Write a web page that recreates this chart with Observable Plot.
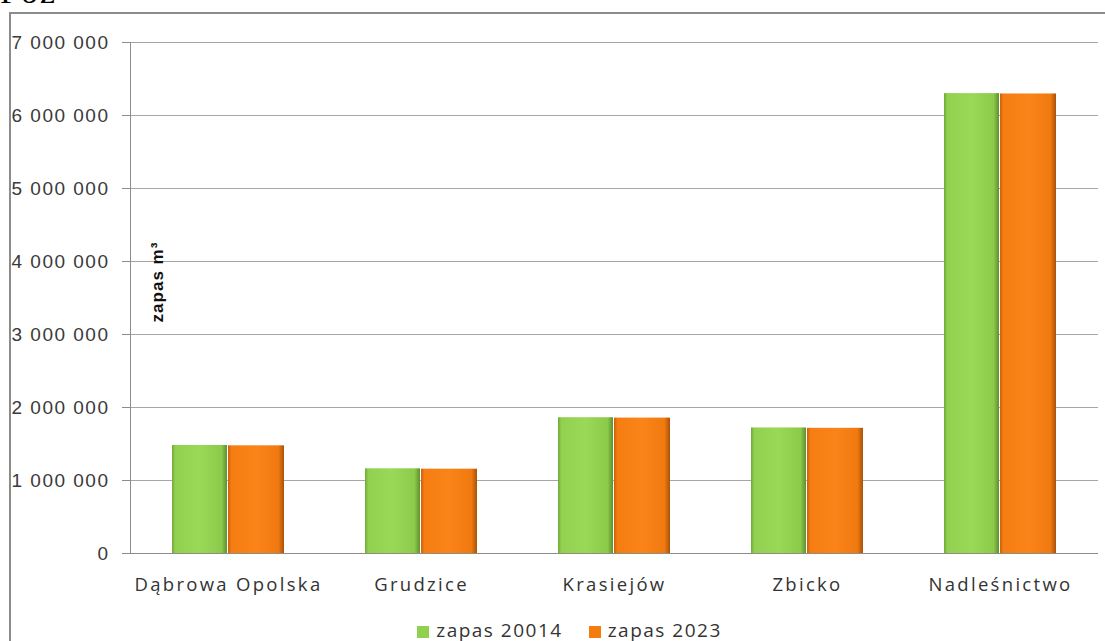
<!DOCTYPE html>
<html>
<head>
<meta charset="utf-8">
<script src="https://cdn.jsdelivr.net/npm/d3@7"></script>
<script src="https://cdn.jsdelivr.net/npm/@observablehq/plot@0.6"></script>
<style>
  html, body { margin: 0; padding: 0; background: #fff; width: 1105px; height: 641px; overflow: hidden; position: relative; }
  #cut { position: absolute; left: 0; top: -27px; font-family: "Liberation Serif", serif; font-size: 34px; color: #000; letter-spacing: 2px; }
  #frame { position: absolute; left: 9px; top: 12px; width: 1200px; height: 700px; border: 2px solid #8c8c8c; box-sizing: border-box; }
  #chart { position: absolute; left: 0; top: 0; }
  #chart g[aria-label="y-axis tick label"] text { letter-spacing: 1.5px; }
  #chart g[aria-label="x-axis tick label"] text { letter-spacing: 2.3px; }
  #chart g[aria-label="text"] text { letter-spacing: 1px; }
  #legend { position: absolute; left: 0; top: 620px; height: 20px; line-height: 20px; width: 1105px; text-align: center; font-family: "Open Sans", sans-serif; font-size: 19px; color: #333; letter-spacing: 1.5px; padding-left: 60px; box-sizing: border-box; white-space: nowrap; }
  #legend span.item { display: inline-block; margin: 0 26px 0 0; }
  #legend span.sw { display: inline-block; width: 12px; height: 12px; margin-right: 7px; vertical-align: -1px; }
</style>
</head>
<body>
<div id="cut">Poz</div>
<div id="frame"></div>
<div id="chart"></div>
<div id="legend"></div>
<script>
const categories = ["Dąbrowa Opolska", "Grudzice", "Krasiejów", "Zbicko", "Nadleśnictwo"];
const zapas2014 = [1480000, 1160000, 1860000, 1720000, 6300000];
const zapas2023 = [1475000, 1155000, 1855000, 1715000, 6295000];
const seriesNames = ["zapas 20014", "zapas 2023"];
const seriesColors = ["#92d050", "#f47b10"];
const yTicks = [0, 1000000, 2000000, 3000000, 4000000, 5000000, 6000000, 7000000];
const yTitle = "zapas m³";

const rows = categories.map((c, i) => ({cat: c, v2014: zapas2014[i], v2023: zapas2023[i]}));
const fmt = d => d3.format(",")(d).replace(/,/g, " ");

const chart = Plot.plot({
  width: 1105,
  height: 605,
  marginTop: 42,
  marginBottom: 52,
  marginLeft: 130,
  marginRight: 7,
  style: {background: "transparent", fontFamily: "'Liberation Sans', Arial, sans-serif"},
  x: {domain: categories, paddingInner: 0.42, paddingOuter: 0.21, label: null},
  y: {domain: [0, 7000000], label: null},
  marks: [
    Plot.gridY(yTicks, {stroke: "#a6a6a6", strokeOpacity: 1, strokeWidth: 1}),
    Plot.axisY(yTicks, {tickSize: 8, tickPadding: 13, tickFormat: fmt, fontSize: 19, fill: "#3a3a3a", stroke: "#8c8c8c", label: null}),
    Plot.axisX({tickSize: 0, tickPadding: 24, fontSize: 18.5, fill: "#333", fontFamily: "'Open Sans', sans-serif", label: null}),
    Plot.barY(rows, {x: "cat", y: "v2014", fill: seriesColors[0], insetRight: 57}),
    Plot.barY(rows, {x: "cat", y: "v2023", fill: seriesColors[1], insetLeft: 56}),
    Plot.ruleY([0], {stroke: "#8c8c8c"}),
    Plot.frame({anchor: "left", stroke: "#8c8c8c"}),
    Plot.text([yTitle], {frameAnchor: "left", textAnchor: "middle", rotate: -90, dx: 27, dy: -16, fontSize: 17, fontWeight: "bold", fill: "#111"})
  ]
});
document.getElementById("chart").appendChild(chart);

// gradients for the bevelled Excel look
const svg = d3.select(chart);
const defs = svg.insert("defs", ":first-child");
function grad(id, stops) {
  const g = defs.append("linearGradient").attr("id", id).attr("x1", "0").attr("x2", "1").attr("y1", "0").attr("y2", "0");
  stops.forEach(([o, c]) => g.append("stop").attr("offset", o).attr("stop-color", c));
}
grad("gGreen", [["0", "#6fa83a"], ["0.06", "#92d050"], ["0.5", "#9ad858"], ["0.9", "#8ccb4a"], ["1", "#5f8f30"]]);
grad("gOrange", [["0", "#c8600c"], ["0.06", "#f57d12"], ["0.5", "#fb8418"], ["0.9", "#f07a10"], ["1", "#a9520a"]]);
const barGroups = svg.selectAll("g[aria-label='bar']").nodes();
if (barGroups[0]) d3.select(barGroups[0]).attr("fill", "url(#gGreen)");
if (barGroups[1]) d3.select(barGroups[1]).attr("fill", "url(#gOrange)");

const legend = document.getElementById("legend");
seriesNames.forEach((n, i) => {
  const item = document.createElement("span");
  item.className = "item";
  const sw = document.createElement("span");
  sw.className = "sw";
  sw.style.background = seriesColors[i];
  item.appendChild(sw);
  item.appendChild(document.createTextNode(n));
  legend.appendChild(item);
});
</script>
</body>
</html>
